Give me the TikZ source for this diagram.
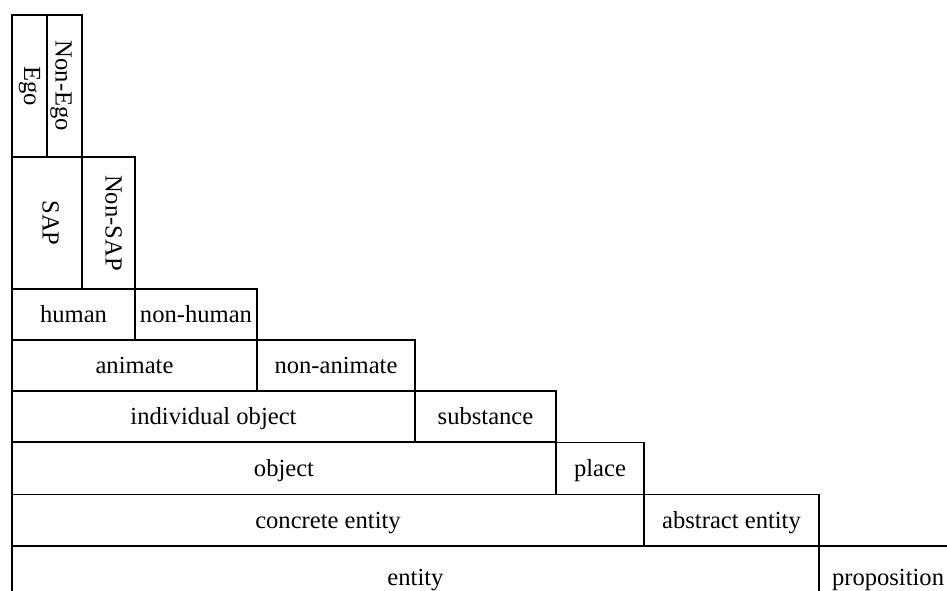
\documentclass[tikz,border=0pt]{standalone}
\usepackage{fontspec}
\setmainfont{Liberation Serif}
\begin{document}
\begin{tikzpicture}[x=1pt,y=-1pt,
  cell/.style={draw=black, line width=1.8pt, rectangle, inner sep=0pt,
    font=\fontsize{24.6}{29}\selectfont, text height=22.6pt, text depth=5.9pt},
  vcell/.style={cell, rotate=-90}]
\useasboundingbox (0,0) rectangle (947,591);
\begin{scope}
\clip (0,0) rectangle (947,591);
% Ego / Non-Ego
\node[vcell, minimum width=142pt, minimum height=35pt, text height=16.2pt, text depth=5.4pt] (ego) at (29.5,86) {Ego};
\node[vcell, minimum width=142pt, minimum height=35pt, text height=23.1pt, text depth=5.4pt] (nonego) at (64.5,86) {Non-Ego};
% SAP / Non-SAP
\node[vcell, minimum width=132pt, minimum height=70pt, text height=17.2pt, text depth=8.4pt] (sap) at (47,223) {SAP};
\node[vcell, minimum width=132pt, minimum height=53pt, text height=17.2pt, text depth=11.3pt] (nonsap) at (108.5,223) {Non-SAP};
% human / non-human
\node[cell, minimum width=123pt, minimum height=51pt] (human) at (73.5,314.5) {human};
\node[cell, minimum width=122pt, minimum height=51pt] (nonhuman) at (196,314.5) {non-human};
% animate / non-animate
\node[cell, minimum width=245pt, minimum height=51pt] (animate) at (134.5,365.5) {animate};
\node[cell, minimum width=158pt, minimum height=51pt] (nonanimate) at (336,365.5) {non-animate};
% individual object / substance
\node[cell, minimum width=403pt, minimum height=51pt] (indiv) at (213.5,416.5) {individual object};
\node[cell, minimum width=141pt, minimum height=51pt] (substance) at (485.5,416.5) {substance};
% object / place
\node[cell, minimum width=544pt, minimum height=52pt] (object) at (284,468.5) {object};
\node[cell, minimum width=88pt, minimum height=52pt] (place) at (600,468.5) {place};
% concrete entity / abstract entity
\node[cell, minimum width=632pt, minimum height=52pt] (concrete) at (328,520.5) {concrete entity};
\node[cell, minimum width=175pt, minimum height=52pt] (abstract) at (731.5,520.5) {abstract entity};
% entity / proposition
\node[cell, minimum width=807pt, minimum height=62pt] (entity) at (415.5,577) {entity};
\node[cell, minimum width=140pt, minimum height=62pt, text width=140pt, align=left] (proposition) at (889,577) {\hspace{13pt}proposition};
\end{scope}
\end{tikzpicture}
\end{document}
